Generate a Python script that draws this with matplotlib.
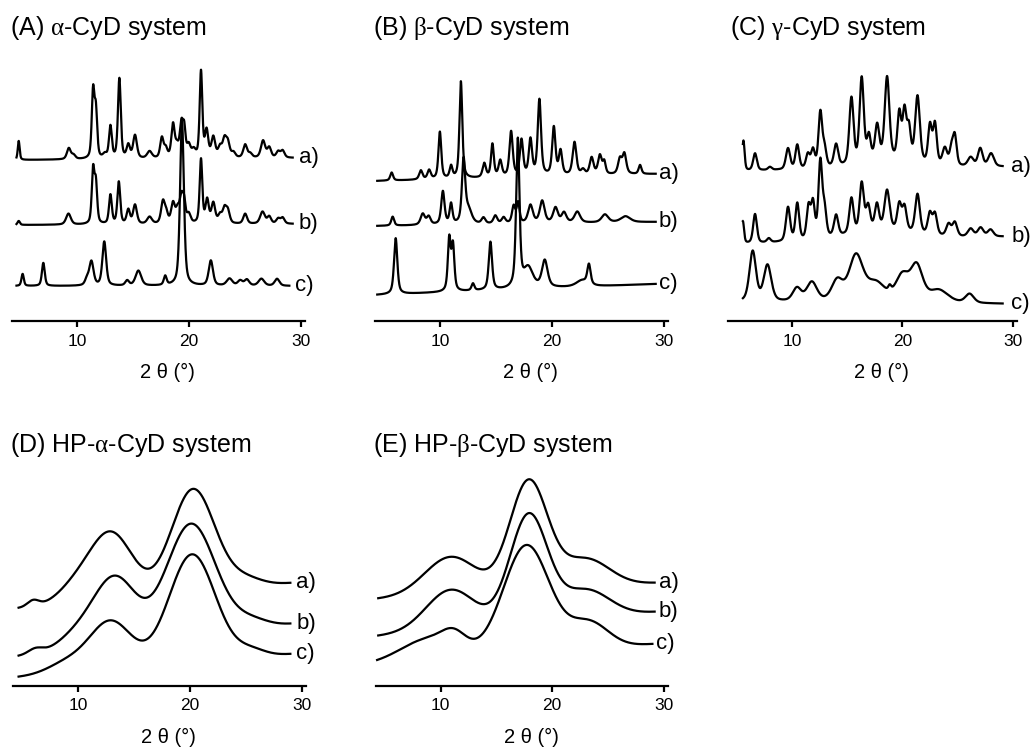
import numpy as np
import matplotlib
matplotlib.use("Agg")
import matplotlib.pyplot as plt

plt.rcParams['font.family'] = ['Liberation Sans', 'DejaVu Sans']
plt.rcParams['mathtext.fontset'] = 'custom'
plt.rcParams['mathtext.rm'] = 'Liberation Serif'
plt.rcParams['mathtext.it'] = 'Liberation Serif'

# ---------------- data (peak lists) ----------------
# intensities are in arbitrary units (1 unit = 1 px above the axis line)
titles = [r"(A) $\mathrm{\alpha}$-CyD system", r"(B) $\mathrm{\beta}$-CyD system",
          r"(C) $\mathrm{\gamma}$-CyD system", r"(D) HP-$\mathrm{\alpha}$-CyD system",
          r"(E) HP-$\mathrm{\beta}$-CyD system"]
curve_labels = ["a)", "b)", "c)"]
xticks = [10, 20, 30]
xlabel = "2 θ (°)"

# Panel A
A_a_range = [4.6, 29.3]; A_a_base = [161, 163]
A_a_pos = [4.8, 9.28, 9.7, 11.45, 11.7, 12.5, 13.0, 13.8, 14.6, 15.2, 16.5, 17.6, 17.95, 18.6, 18.95, 19.35, 19.6, 20.0, 20.45, 21.1, 21.6, 22.2, 22.8, 23.2, 23.5, 24.0, 25.05, 25.5, 26.65, 27.2, 28.0, 28.4]
A_a_hgt = [19, 11, 4, 66, 46, 4, 32, 80, 13, 23, 7, 20, 9, 33, 10, 33, 25, 12, 7, 86, 26, 20, 10, 17, 14, 5, 13, 4, 17, 10, 6, 7]
A_a_fw = [0.2, 0.4, 0.4, 0.28, 0.28, 0.4, 0.3, 0.3, 0.35, 0.4, 0.5, 0.35, 0.35, 0.35, 0.35, 0.35, 0.28, 0.4, 0.4, 0.28, 0.35, 0.4, 0.4, 0.4, 0.4, 0.4, 0.4, 0.4, 0.45, 0.4, 0.4, 0.4]

A_b_range = [4.6, 29.3]; A_b_base = [96, 97]
A_b_pos = [4.8, 9.25, 11.45, 11.7, 13.0, 13.75, 14.6, 15.2, 16.5, 17.7, 18.0, 18.6, 19.0, 19.36, 19.6, 20.0, 21.1, 21.65, 22.2, 22.8, 23.2, 23.5, 25.05, 26.6, 27.2, 28.0, 28.4]
A_b_hgt = [4, 11, 53, 39, 29, 42, 14, 19, 7, 22, 9, 20, 12, 27, 16, 9, 64, 23, 20, 8, 14, 12, 10, 12, 7, 5, 6]
A_b_fw = [0.25, 0.5, 0.28, 0.28, 0.3, 0.3, 0.35, 0.4, 0.5, 0.4, 0.35, 0.4, 0.35, 0.4, 0.28, 0.4, 0.28, 0.35, 0.4, 0.4, 0.4, 0.4, 0.4, 0.5, 0.4, 0.4, 0.4]

A_c_range = [4.6, 29.0]; A_c_base = [35, 35]
A_c_pos = [5.15, 7.0, 10.9, 11.3, 12.45, 14.5, 15.5, 17.9, 19.4, 21.98, 23.65, 24.6, 25.2, 26.5, 27.9]
A_c_hgt = [12, 23, 6, 24, 44, 5, 15, 9, 165, 25, 7, 5, 6, 7, 7]
A_c_fw = [0.25, 0.3, 0.4, 0.45, 0.4, 0.4, 0.6, 0.3, 0.4, 0.45, 0.6, 0.5, 0.5, 0.6, 0.5]

# Panel B
B_a_range = [4.4, 29.3]; B_a_base = [140, 147]
B_a_pos = [5.69, 8.3, 9.04, 10.0, 11.0, 11.88, 13.97, 14.7, 15.4, 16.37, 17.3, 18.1, 18.9, 20.19, 20.79, 22.04, 22.8, 23.57, 24.31, 24.7, 26.1, 26.5, 27.9]
B_a_hgt = [8, 9, 9, 47, 12, 97, 14, 33, 16, 45, 36, 36, 76, 48, 24, 33, 5, 17, 19, 12, 15, 20, 9]
B_a_fw = [0.3, 0.35, 0.35, 0.3, 0.3, 0.3, 0.35, 0.3, 0.35, 0.35, 0.35, 0.35, 0.35, 0.35, 0.35, 0.4, 0.4, 0.4, 0.4, 0.3, 0.4, 0.4, 0.3]

B_b_range = [4.4, 29.3]; B_b_base = [95, 99]
B_b_pos = [5.78, 8.47, 9.0, 10.27, 11.0, 12.12, 12.55, 13.9, 14.96, 15.7, 16.6, 17.0, 18.1, 19.15, 20.34, 21.1, 22.29, 24.76, 26.6]
B_b_hgt = [9, 11, 8, 33, 20, 62, 14, 6, 8, 6, 17, 20, 18, 22, 15, 10, 11, 8, 6]
B_b_fw = [0.3, 0.45, 0.4, 0.35, 0.3, 0.35, 0.7, 0.4, 0.4, 0.4, 0.35, 0.3, 0.5, 0.5, 0.5, 0.5, 0.6, 0.7, 1.0]

B_c_range = [4.4, 29.3]; B_c_base = [26, 37]
B_c_pos = [6.05, 10.84, 11.17, 12.96, 14.52, 16.97, 17.9, 19.38, 22.7, 23.33]
B_c_hgt = [56, 52, 45, 7, 48, 148, 20, 27, 6, 20]
B_c_fw = [0.35, 0.3, 0.3, 0.3, 0.35, 0.35, 1.0, 0.6, 1.2, 0.35]

# Panel C
C_a_range = [5.55, 29.1]; C_a_base = [150, 154]
C_a_pos = [5.6, 6.65, 8.0, 9.64, 10.48, 11.44, 11.9, 12.57, 12.95, 14.0, 15.39, 16.32, 16.97, 17.72, 18.62, 19.73, 20.2, 20.6, 21.38, 22.51, 22.96, 23.86, 24.46, 24.76, 26.2, 27.07, 28.05, 18.5]
C_a_hgt = [30, 17, 3, 21, 24, 14, 18, 55, 18, 22, 66, 84, 24, 34, 82, 46, 48, 32, 66, 38, 40, 17, 16, 29, 9, 18, 13, 8]
C_a_fw = [0.25, 0.4, 0.4, 0.45, 0.4, 0.4, 0.4, 0.4, 0.4, 0.45, 0.45, 0.45, 0.4, 0.45, 0.5, 0.4, 0.4, 0.4, 0.5, 0.4, 0.4, 0.5, 0.4, 0.4, 0.6, 0.5, 0.6, 6.0]

C_b_range = [5.55, 29.1]; C_b_base = [77, 84]
C_b_pos = [5.55, 6.65, 7.9, 9.64, 10.48, 11.5, 11.9, 12.57, 12.95, 14.0, 15.39, 16.32, 16.9, 17.7, 18.62, 19.73, 20.2, 21.38, 22.5, 22.96, 24.2, 24.76, 26.2, 27.1, 28.0, 18.0]
C_b_hgt = [22, 29, 4, 34, 37, 32, 35, 76, 27, 21, 35, 48, 24, 25, 39, 26, 24, 39, 21, 21, 12, 14, 8, 9, 7, 10]
C_b_fw = [0.25, 0.4, 0.4, 0.45, 0.4, 0.4, 0.4, 0.4, 0.4, 0.45, 0.45, 0.45, 0.45, 0.45, 0.55, 0.45, 0.45, 0.5, 0.45, 0.45, 0.5, 0.5, 0.6, 0.6, 0.6, 7.0]

C_c_range = [5.55, 29.1]; C_c_base = [19, 17]
C_c_pos = [6.44, 7.78, 10.45, 11.8, 14.1, 15.8, 17.6, 18.86, 20.0, 21.3, 23.3, 26.1]
C_c_hgt = [50, 36, 13, 19, 20, 45, 18, 5, 25, 35, 12, 9]
C_c_fw = [0.7, 0.8, 0.9, 1.1, 1.2, 1.5, 2.0, 0.3, 1.4, 1.3, 2.0, 0.9]

# Panel D
D_a_range = [4.7, 29.0]; D_a_base = [78, 103]
D_a_pos = [6.0, 9.6, 12.9, 20.3, 25.0]
D_a_hgt = [6, 12, 67, 103, 8]
D_a_fw = [1.2, 3.6, 4.6, 4.6, 3.5]

D_b_range = [4.7, 29.0]; D_b_base = [30, 62]
D_b_pos = [6.2, 10.0, 13.3, 20.1, 25.5]
D_b_hgt = [5, 14, 66, 112, 8]
D_b_fw = [1.5, 4.0, 4.4, 5.2, 3.5]

D_c_range = [4.7, 29.0]; D_c_base = [9, 32]
D_c_pos = [9.0, 12.9, 20.2, 25.5]
D_c_hgt = [10, 48, 108, 7]
D_c_fw = [4.0, 4.4, 4.9, 3.0]

# Panel E
E_a_range = [4.4, 29.2]; E_a_base = [87, 103]
E_a_pos = [10.9, 17.9, 23.0]
E_a_hgt = [38, 109, 28]
E_a_fw = [5.5, 4.0, 5.0]

E_b_range = [4.4, 29.2]; E_b_base = [50, 74]
E_b_pos = [10.9, 17.9, 23.0]
E_b_hgt = [40, 108, 28]
E_b_fw = [5.2, 4.0, 5.0]

E_c_range = [4.3, 29.0]; E_c_base = [22, 42]
E_c_pos = [9.0, 11.2, 17.7, 23.3]
E_c_hgt = [22, 14, 108, 26]
E_c_fw = [6.0, 2.5, 4.9, 4.1]

# ---------------- drawing ----------------
def profile(x, rng, base, pos, hgt, fw, eta):
    y = base[0] + (base[1] - base[0]) * (x - rng[0]) / (rng[1] - rng[0])
    for p, h, w in zip(pos, hgt, fw):
        d2 = 4.0 * (x - p) ** 2 / w ** 2
        y = y + h * (eta * 1.0 / (1.0 + d2) + (1 - eta) * np.exp(-np.log(2) * d2))
    return y

panels = [
    dict(curves=[(A_a_range, A_a_base, A_a_pos, A_a_hgt, A_a_fw),
                 (A_b_range, A_b_base, A_b_pos, A_b_hgt, A_b_fw),
                 (A_c_range, A_c_base, A_c_pos, A_c_hgt, A_c_fw)], eta=0.5,
         box=(12, 305), axis_y=321, top=50, title=(10, 28), lab_dx=0.55),
    dict(curves=[(B_a_range, B_a_base, B_a_pos, B_a_hgt, B_a_fw),
                 (B_b_range, B_b_base, B_b_pos, B_b_hgt, B_b_fw),
                 (B_c_range, B_c_base, B_c_pos, B_c_hgt, B_c_fw)], eta=0.6,
         box=(375, 668), axis_y=321, top=50, title=(373, 28), lab_dx=0.3),
    dict(curves=[(C_a_range, C_a_base, C_a_pos, C_a_hgt, C_a_fw),
                 (C_b_range, C_b_base, C_b_pos, C_b_hgt, C_b_fw),
                 (C_c_range, C_c_base, C_c_pos, C_c_hgt, C_c_fw)], eta=0.4,
         box=(728, 1017), axis_y=321, top=50, title=(730, 28), lab_dx=0.8),
    dict(curves=[(D_a_range, D_a_base, D_a_pos, D_a_hgt, D_a_fw),
                 (D_b_range, D_b_base, D_b_pos, D_b_hgt, D_b_fw),
                 (D_c_range, D_c_base, D_c_pos, D_c_hgt, D_c_fw)], eta=0.0,
         box=(13, 306), axis_y=686, top=470, title=(10, 445), lab_dx=0.55),
    dict(curves=[(E_a_range, E_a_base, E_a_pos, E_a_hgt, E_a_fw),
                 (E_b_range, E_b_base, E_b_pos, E_b_hgt, E_b_fw),
                 (E_c_range, E_c_base, E_c_pos, E_c_hgt, E_c_fw)], eta=0.0,
         box=(376, 668), axis_y=686, top=470, title=(373, 445), lab_dx=0.35),
]

W, H = 1035, 751
fig = plt.figure(figsize=(W / 100, H / 100), dpi=100)

for i, pnl in enumerate(panels):
    x0, x1 = pnl['box']
    ay, top = pnl['axis_y'], pnl['top']
    ax = fig.add_axes([x0 / W, (H - ay) / H, (x1 - x0) / W, (ay - top) / H])
    ax.set_xlim(4.2, 30.4)
    ax.set_ylim(0, ay - top)
    for k, (rng, base, pos, hgt, fw) in enumerate(pnl['curves']):
        x = np.linspace(rng[0], rng[1], 4000)
        y = profile(x, rng, base, pos, hgt, fw, pnl['eta'])
        ax.plot(x, y, color='black', lw=1.6, clip_on=False, solid_joinstyle='round')
        ax.text(rng[1] + pnl['lab_dx'], y[-1], curve_labels[k], ha='left', va='center',
                fontsize=16, clip_on=False)
    for s in ['top', 'right', 'left']:
        ax.spines[s].set_visible(False)
    ax.spines['bottom'].set_linewidth(1.6)
    ax.set_yticks([])
    ax.set_xticks(xticks)
    ax.tick_params(axis='x', direction='out', length=4, width=1.6, labelsize=12.5, pad=5)
    ax.patch.set_visible(False)
    tx, ty = pnl['title']
    fig.text(tx / W, 1 - ty / H, titles[i], ha='left', va='center', fontsize=18)
    xc = (x0 + x1) / 2 + 9
    fig.text(xc / W, 1 - (ay + 51) / H, xlabel, ha='center', va='center', fontsize=14.5)

fig.savefig("out.png", dpi=100)
